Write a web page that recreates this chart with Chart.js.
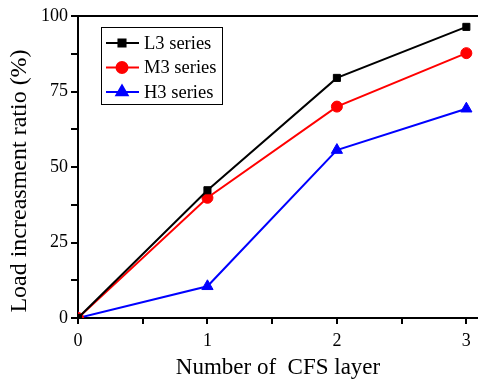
<!DOCTYPE html>
<html>
<head>
<meta charset="utf-8">
<script src="https://cdn.jsdelivr.net/npm/chart.js@4/dist/chart.umd.min.js"></script>
<style>
  html, body { margin: 0; padding: 0; background: #fff; }
  #wrap { width: 478px; height: 386px; position: relative; }
</style>
</head>
<body>
<div id="wrap"><canvas id="myChart"></canvas></div>
<script>
var layers = [0, 1, 2, 3];
var l3Values = [0, 42.3, 79.5, 96.4];
var m3Values = [0, 39.8, 70.0, 87.7];
var h3Values = [0, 10.5, 55.6, 69.3];
var seriesNames = ['L3 series', 'M3 series', 'H3 series'];
var yTicks = [0, 25, 50, 75, 100];
var xTicks = [0, 1, 2, 3];
var yTitle = 'Load increasment ratio (%)';
var xTitle = 'Number of  CFS layer';

var serif = "'Liberation Serif', 'Times New Roman', serif";

function points(vals) {
    return layers.map(function (x, i) { return { x: x, y: vals[i] }; });
}

function series(name, vals, color, shape, r) {
    return {
        label: name,
        data: points(vals),
        borderColor: color,
        backgroundColor: color,
        borderWidth: 2,
        pointStyle: shape,
        pointRadius: r,
        pointHoverRadius: r,
        pointBorderWidth: 1,
        tension: 0
    };
}

// top frame line, rotated y title and the legend box with line + marker samples
var framePlugin = {
    id: 'frame',
    afterDraw: function (chart) {
        var ctx = chart.ctx, a = chart.chartArea;
        ctx.save();
        ctx.strokeStyle = '#000';
        ctx.lineWidth = 2;
        ctx.beginPath();
        ctx.moveTo(a.left, a.top);
        ctx.lineTo(a.right, a.top);
        ctx.stroke();

        ctx.save();
        ctx.translate(20, 181);
        ctx.rotate(-Math.PI / 2);
        ctx.font = '24px ' + serif;
        ctx.fillStyle = '#000';
        ctx.textAlign = 'center';
        ctx.textBaseline = 'middle';
        ctx.fillText(yTitle, 0, 0);
        ctx.restore();

        var bx = 101, by = 27, bw = 121, bh = 77;
        ctx.lineWidth = 1;
        ctx.strokeRect(bx + 0.5, by + 0.5, bw, bh);
        ctx.font = '18.5px ' + serif;
        ctx.textBaseline = 'middle';
        chart.data.datasets.forEach(function (ds, i) {
            var y = by + 16 + i * 24.5;
            ctx.strokeStyle = ds.borderColor;
            ctx.lineWidth = 2;
            ctx.beginPath();
            ctx.moveTo(bx + 5, y);
            ctx.lineTo(bx + 38, y);
            ctx.stroke();
            Chart.helpers.drawPoint(ctx, {
                pointStyle: ds.pointStyle, radius: ds.pointRadius,
                borderWidth: 1, rotation: 0
            }, bx + 21, y);
            ctx.fillStyle = ds.borderColor;
            ctx.fill();
            ctx.fillStyle = '#000';
            ctx.fillText(ds.label, bx + 43, y + 1);
        });
        ctx.restore();
    }
};

var config = {
    type: 'line',
    data: {
        datasets: [
            series(seriesNames[0], l3Values, '#000000', 'rect', 5),
            series(seriesNames[1], m3Values, '#ff0000', 'circle', 5.5),
            series(seriesNames[2], h3Values, '#0000ff', 'triangle', 6.5)
        ]
    },
    options: {
        responsive: true,
        maintainAspectRatio: false,
        animation: false,
        layout: { autoPadding: false, padding: { top: 16, right: 0, left: 0, bottom: 0 } },
        plugins: {
            legend: { display: false },
            tooltip: { enabled: false }
        },
        scales: {
            x: {
                type: 'linear',
                min: 0,
                max: 3.09,
                border: { color: '#000', width: 2 },
                grid: { display: true, drawOnChartArea: false, drawTicks: true, tickLength: 6, color: '#000', lineWidth: 2 },
                ticks: {
                    stepSize: 0.5,
                    includeBounds: false,
                    maxRotation: 0,
                    color: '#000',
                    padding: 6,
                    font: { family: serif, size: 18 },
                    callback: function (v) { return xTicks.indexOf(v) >= 0 ? String(v) : ''; }
                },
                title: {
                    display: true,
                    text: xTitle,
                    color: '#000',
                    font: { family: serif, size: 23 },
                    padding: { top: 16 }
                },
                afterFit: function (s) { s.height = 68; s.paddingRight = 0; }
            },
            y: {
                min: 0,
                max: 100,
                border: { color: '#000', width: 2 },
                grid: { display: true, drawOnChartArea: false, drawTicks: true, tickLength: 7, color: '#000', lineWidth: 2 },
                ticks: {
                    stepSize: 12.5,
                    color: '#000',
                    padding: 3,
                    font: { family: serif, size: 18 },
                    callback: function (v) { return yTicks.indexOf(v) >= 0 ? String(v) : ''; }
                },
                afterFit: function (s) { s.width = 78; }
            }
        }
    },
    plugins: [framePlugin]
};

var myChart = new Chart(document.getElementById('myChart'), config);
</script>
</body>
</html>
